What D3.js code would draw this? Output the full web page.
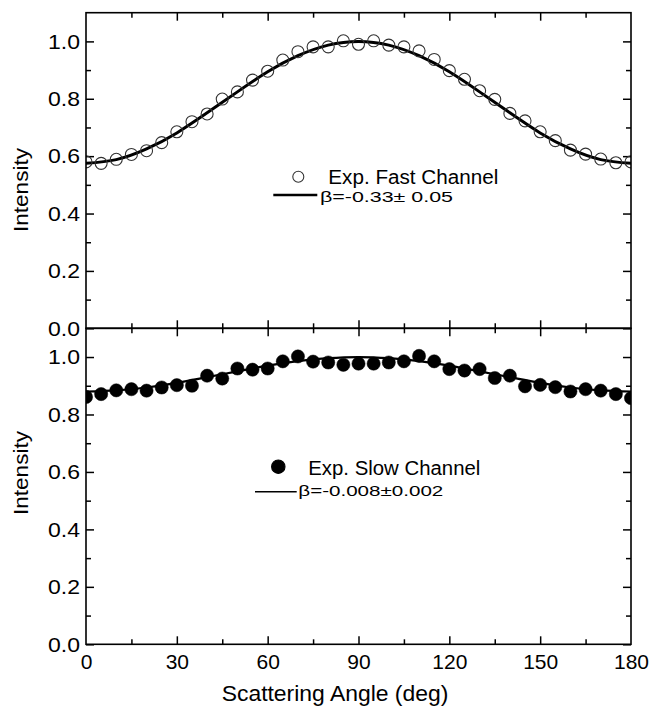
<!DOCTYPE html>
<html>
<head>
<meta charset="utf-8">
<script src="https://cdn.jsdelivr.net/npm/d3@7"></script>
<style>
  html, body { margin: 0; padding: 0; background: #fff; }
  svg { display: block; font-family: Arial, "Liberation Sans", Helvetica, sans-serif; }
</style>
</head>
<body>
<svg id="chart" width="650" height="707"></svg>
<script>
// ---------- data ----------
const angles = [0,5,10,15,20,25,30,35,40,45,50,55,60,65,70,75,80,85,90,95,100,105,110,115,120,125,130,135,140,145,150,155,160,165,170,175,180];
const fastValues = [0.580,0.575,0.589,0.606,0.619,0.647,0.685,0.720,0.747,0.799,0.824,0.865,0.896,0.935,0.964,0.981,0.981,1.002,0.990,1.002,0.987,0.981,0.967,0.937,0.898,0.868,0.828,0.798,0.749,0.723,0.685,0.654,0.621,0.607,0.590,0.577,0.580];
const slowValues = [0.861,0.871,0.884,0.888,0.883,0.894,0.902,0.900,0.935,0.925,0.960,0.956,0.960,0.985,1.002,0.984,0.981,0.973,0.977,0.977,0.981,0.985,1.004,0.985,0.958,0.953,0.958,0.927,0.935,0.898,0.903,0.895,0.880,0.888,0.883,0.871,0.857];
const fitAngles = [0,10,20,30,40,50,60,70,80,90,100,110,120,130,140,150,160,170,180];
const fastFit = [0.575,0.588,0.625,0.681,0.751,0.824,0.894,0.950,0.987,1.000,0.987,0.950,0.894,0.824,0.751,0.681,0.625,0.588,0.575];
const slowFit = [0.880,0.884,0.894,0.910,0.930,0.950,0.970,0.986,0.996,1.000,0.996,0.986,0.970,0.950,0.930,0.910,0.894,0.884,0.880];
const xTicks = [0,30,60,90,120,150,180];
const xMinorTicks = [15,45,75,105,135,165];
const yTicks = [0.0,0.2,0.4,0.6,0.8,1.0];
const yMinorTicks = [0.1,0.3,0.5,0.7,0.9];
const yDomain = [0, 1.1];
const xDomain = [0, 180];
const fastLabel = "Exp. Fast Channel";
const fastBeta = "β=-0.33± 0.05";
const slowLabel = "Exp. Slow Channel";
const slowBeta = "β=-0.008±0.002";
const yTitle = "Intensity";
const xTitle = "Scattering Angle (deg)";

// ---------- layout ----------
const svg = d3.select("#chart");
const L = 86, R = 631;
const topY0 = 12.7, midY = 328.3, botY1 = 644.3;

const x = d3.scaleLinear().domain(xDomain).range([L, R]);
const yTop = d3.scaleLinear().domain(yDomain).range([midY, topY0]);
const yBot = d3.scaleLinear().domain(yDomain).range([botY1, midY]);

const MAJ = 8, MIN = 5;
const FONT = "Arial, 'Liberation Sans', sans-serif";

svg.append("defs").selectAll("clipPath")
  .data([["clipTop", topY0, midY], ["clipBot", midY, botY1]])
  .join("clipPath").attr("id", d => d[0])
  .append("rect").attr("x", L).attr("y", d => d[1]).attr("width", R - L).attr("height", d => d[2] - d[1]);

function drawPanel(y, vals, fit, filled, clipId, showXLabels, legend, titleCy) {
  const g = svg.append("g");
  const y0 = y.range()[0], y1 = y.range()[1];

  const axisStyle = sel => {
    sel.select(".domain").remove();
    sel.selectAll("line").attr("stroke", "#000").attr("stroke-width", 1.5);
  };
  // left ticks (inward)
  g.append("g").attr("transform", `translate(${L},0)`)
    .call(d3.axisRight(y).tickValues(yTicks).tickSize(MAJ).tickFormat(""))
    .call(axisStyle);
  g.append("g").attr("transform", `translate(${L},0)`)
    .call(d3.axisRight(y).tickValues(yMinorTicks).tickSize(MIN).tickFormat(""))
    .call(axisStyle);
  // left labels
  g.append("g").attr("transform", `translate(${L},0)`)
    .call(d3.axisLeft(y).tickValues(yTicks).tickSize(0).tickPadding(6).tickFormat(d3.format(".1f")))
    .call(sel => { sel.select(".domain").remove();
      sel.selectAll("text").attr("font-size", 21).attr("fill", "#000").attr("font-family", FONT)
        .attr("textLength", 32).attr("lengthAdjust", "spacingAndGlyphs"); });
  // right ticks
  g.append("g").attr("transform", `translate(${R},0)`)
    .call(d3.axisLeft(y).tickValues(yTicks).tickSize(MAJ).tickFormat(""))
    .call(axisStyle);
  g.append("g").attr("transform", `translate(${R},0)`)
    .call(d3.axisLeft(y).tickValues(yMinorTicks).tickSize(MIN).tickFormat(""))
    .call(axisStyle);
  // top ticks (inward = down)
  g.append("g").attr("transform", `translate(0,${y1})`)
    .call(d3.axisBottom(x).tickValues(xTicks.slice(1, -1)).tickSize(MAJ).tickFormat(""))
    .call(axisStyle);
  g.append("g").attr("transform", `translate(0,${y1})`)
    .call(d3.axisBottom(x).tickValues(xMinorTicks).tickSize(MIN).tickFormat(""))
    .call(axisStyle);
  // bottom ticks (inward = up)
  g.append("g").attr("transform", `translate(0,${y0})`)
    .call(d3.axisTop(x).tickValues(xTicks.slice(1, -1)).tickSize(MAJ).tickFormat(""))
    .call(axisStyle);
  g.append("g").attr("transform", `translate(0,${y0})`)
    .call(d3.axisTop(x).tickValues(xMinorTicks).tickSize(MIN).tickFormat(""))
    .call(axisStyle);
  if (showXLabels) {
    g.append("g").attr("transform", `translate(0,${y0})`)
      .call(d3.axisBottom(x).tickValues(xTicks).tickSize(0).tickPadding(10).tickFormat(d3.format("d")))
      .call(sel => { sel.select(".domain").remove();
        sel.selectAll("text").attr("font-size", 21).attr("fill", "#000").attr("font-family", FONT); });
  }

  // fit line
  const line = d3.line().x((d, i) => x(fitAngles[i])).y(d => y(d)).curve(d3.curveNatural);
  g.append("path").datum(fit).attr("d", line)
    .attr("fill", "none").attr("stroke", "#000")
    .attr("stroke-width", filled ? 2.2 : 3)
    .attr("clip-path", `url(#${clipId})`);

  // points
  g.append("g").attr("clip-path", `url(#${clipId})`)
    .selectAll("circle").data(vals).join("circle")
    .attr("cx", (d, i) => x(angles[i])).attr("cy", d => y(d))
    .attr("r", filled ? 6.6 : 6)
    .attr("fill", filled ? "#000" : "none")
    .attr("stroke", filled ? "#000" : "#333")
    .attr("stroke-width", filled ? 0.5 : 1.1);

  // frame
  g.append("rect").attr("x", L).attr("y", y1).attr("width", R - L).attr("height", y0 - y1)
    .attr("fill", "none").attr("stroke", "#000").attr("stroke-width", 1.6);

  // y title
  g.append("text")
    .attr("transform", `translate(28,${titleCy}) rotate(-90)`)
    .attr("text-anchor", "middle").attr("font-size", 20).attr("fill", "#000")
    .attr("textLength", 84).attr("lengthAdjust", "spacingAndGlyphs")
    .text(yTitle);

  // legend
  const lg = g.append("g");
  lg.append("circle").attr("cx", legend.cx).attr("cy", legend.cy).attr("r", legend.r)
    .attr("fill", filled ? "#000" : "none").attr("stroke", filled ? "#000" : "#333").attr("stroke-width", 1.1);
  lg.append("text").attr("x", legend.tx).attr("y", legend.ty).attr("font-size", 20).attr("fill", "#000")
    .attr("textLength", legend.tlen).attr("lengthAdjust", "spacingAndGlyphs").text(legend.label);
  lg.append("line").attr("x1", legend.lx1).attr("x2", legend.lx2).attr("y1", legend.ly).attr("y2", legend.ly)
    .attr("stroke", "#000").attr("stroke-width", legend.lw);
  lg.append("text").attr("x", legend.bx).attr("y", legend.by).attr("font-size", 15).attr("fill", "#000")
    .attr("textLength", legend.blen).attr("lengthAdjust", "spacingAndGlyphs").text(legend.beta);
}

drawPanel(yTop, fastValues, fastFit, false, "clipTop", false,
  { cx: 298.3, cy: 176.7, r: 5.5, tx: 328.3, ty: 184, tlen: 170, label: fastLabel,
    lx1: 273.3, lx2: 317.3, ly: 195, lw: 2.5, bx: 320, by: 202, blen: 133, beta: fastBeta }, 190);
drawPanel(yBot, slowValues, slowFit, true, "clipBot", true,
  { cx: 278.3, cy: 466.7, r: 6.7, tx: 308.3, ty: 474.5, tlen: 172, label: slowLabel,
    lx1: 255, lx2: 296.7, ly: 491.7, lw: 1.5, bx: 298.3, by: 496, blen: 145, beta: slowBeta }, 473);

// x title
svg.append("text").attr("x", 221.7).attr("y", 701)
  .attr("text-anchor", "start").attr("font-size", 22).attr("fill", "#000")
  .attr("textLength", 226.6).attr("lengthAdjust", "spacingAndGlyphs")
  .text(xTitle);
</script>
</body>
</html>
